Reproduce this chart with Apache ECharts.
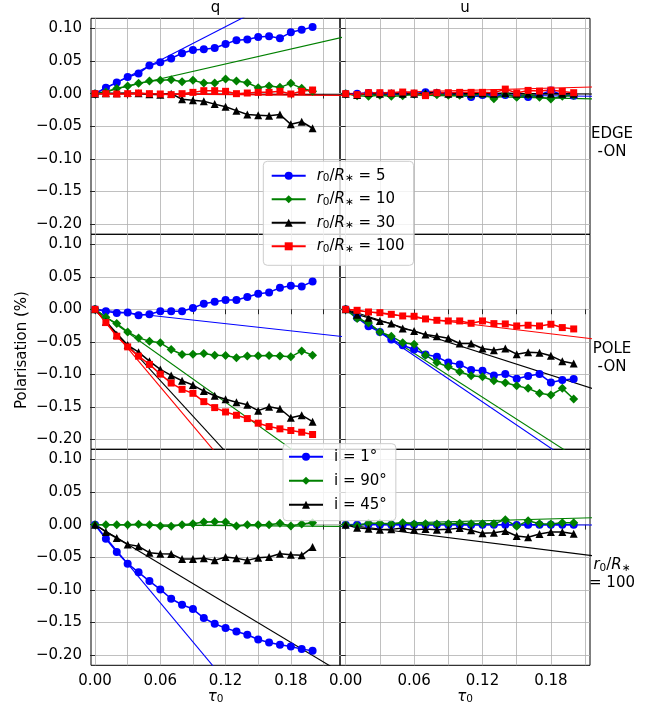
<!DOCTYPE html>
<html>
<head>
<meta charset="utf-8">
<script src="https://cdn.jsdelivr.net/npm/echarts@6/dist/echarts.min.js"></script>
<style>
  html, body { margin: 0; padding: 0; background: #ffffff; }
  #chart { width: 660px; height: 710px; }
</style>
</head>
<body>
<div id="chart"></div>
<script>
// Optical depth grid shared by every simulated run
const tau = [0.00, 0.01, 0.02, 0.03, 0.04, 0.05, 0.06, 0.07, 0.08, 0.09, 0.10,
             0.11, 0.12, 0.13, 0.14, 0.15, 0.16, 0.17, 0.18, 0.19, 0.20];

// Tick positions
const xTickValues = [0.00, 0.03, 0.06, 0.09, 0.12, 0.15, 0.18, 0.21];
const xLabelValues = [0.00, 0.06, 0.12, 0.18];
const yTickValues = [-0.20, -0.15, -0.10, -0.05, 0.00, 0.05, 0.10];

// Edge-on disc, Stokes q (%) for r0/R* = 5, 10, 30, 100
const edgeQ_r5   = [0, 0.0092, 0.0173, 0.0255, 0.031, 0.043, 0.048, 0.054, 0.062, 0.067, 0.068, 0.070, 0.076, 0.082, 0.083, 0.087, 0.088, 0.085, 0.094, 0.098, 0.102];
const edgeQ_r10  = [0, 0.0025, 0.008, 0.0117, 0.0158, 0.0194, 0.0204, 0.0214, 0.0183, 0.0204, 0.0163, 0.0163, 0.0224, 0.0194, 0.0168, 0.0092, 0.0117, 0.0097, 0.0158, 0.0082, 0.0036];
const edgeQ_r30  = [0, 0.0005, 0.0005, 0.001, 0.0005, -0.001, -0.0015, 0.0, -0.0085, -0.010, -0.0115, -0.016, -0.020, -0.026, -0.032, -0.033, -0.034, -0.032, -0.047, -0.043, -0.053];
const edgeQ_r100 = [0, 0, -0.0005, 0, 0.001, 0, -0.0005, -0.0015, 0, 0.002, 0.0046, 0.0046, 0.0036, 0, 0.001, 0.002, 0.002, 0.0036, -0.0005, 0.0036, 0.0056];

// Edge-on disc, Stokes u (%)
const edgeU_r5   = [0, 0, 0.001, 0, 0, 0, 0, 0.002, 0.001, 0, -0.001, -0.005, -0.002, -0.002, -0.002, -0.003, -0.005, -0.002, 0.005, -0.002, -0.003];
const edgeU_r10  = [0, -0.003, -0.004, -0.0025, -0.004, -0.003, -0.0005, -0.001, -0.0015, -0.0025, -0.0025, -0.0025, -0.0005, -0.0076, -0.0005, -0.0056, -0.0015, -0.0056, -0.008, -0.004, -0.0025];
const edgeU_r30  = [0, -0.002, 0.001, 0, 0.001, 0, 0, 0.0005, 0.002, 0, 0, 0, 0.0005, 0, 0.001, 0, 0, 0, 0, 0, 0];
const edgeU_r100 = [0, -0.0015, 0.0015, 0.0015, 0.001, 0.0025, 0.001, -0.003, 0.0015, 0.0015, 0.002, 0.002, 0.002, 0.0015, 0.007, 0.001, 0.005, 0.004, 0.0055, 0.0035, 0.0015];

// Pole-on disc, Stokes q (%)
const poleQ_r5   = [0, -0.003, -0.0056, -0.005, -0.0092, -0.0077, -0.003, -0.003, -0.003, 0.002, 0.0087, 0.0118, 0.0143, 0.0143, 0.0189, 0.024, 0.026, 0.0332, 0.0363, 0.0353, 0.0429];
const poleQ_r10  = [0, -0.0123, -0.022, -0.0348, -0.044, -0.049, -0.0516, -0.0619, -0.0695, -0.069, -0.068, -0.0706, -0.0711, -0.0746, -0.072, -0.0716, -0.0711, -0.072, -0.0731, -0.064, -0.0706];
const poleQ_r30  = [0, -0.019, -0.039, -0.055, -0.066, -0.0798, -0.0925, -0.1017, -0.110, -0.1166, -0.1258, -0.133, -0.1385, -0.143, -0.147, -0.156, -0.150, -0.153, -0.167, -0.163, -0.173];
const poleQ_r100 = [0, -0.0204, -0.0414, -0.0578, -0.0721, -0.0848, -0.0998, -0.1135, -0.1232, -0.1293, -0.1421, -0.1513, -0.158, -0.1631, -0.1682, -0.1753, -0.1805, -0.184, -0.1866, -0.1892, -0.1927];

// Pole-on disc, Stokes u (%)
const poleU_r5   = [0, -0.0128, -0.0261, -0.0348, -0.0465, -0.0552, -0.0619, -0.0695, -0.0731, -0.0818, -0.0849, -0.0936, -0.0946, -0.1017, -0.0997, -0.1069, -0.1028, -0.0997, -0.1125, -0.1089, -0.1074];
const poleU_r10  = [0, -0.0143, -0.021, -0.0348, -0.0414, -0.0516, -0.0537, -0.0706, -0.0818, -0.0884, -0.0961, -0.1022, -0.1038, -0.1099, -0.113, -0.1176, -0.1217, -0.1293, -0.1319, -0.1217, -0.138];
const poleU_r30  = [0, -0.0082, -0.0128, -0.0179, -0.022, -0.0297, -0.0332, -0.0389, -0.0414, -0.0445, -0.0527, -0.0527, -0.0603, -0.0629, -0.0603, -0.069, -0.066, -0.067, -0.0716, -0.0798, -0.0833];
const poleU_r100 = [0, -0.0015, -0.0041, -0.0051, -0.0077, -0.0102, -0.0107, -0.0148, -0.0169, -0.0179, -0.0179, -0.0215, -0.0179, -0.022, -0.0225, -0.0256, -0.0245, -0.0256, -0.023, -0.0281, -0.0302];

// r0/R* = 100, Stokes q (%) for inclinations 1, 90, 45 deg
const r100Q_i1  = [0, -0.0215, -0.0419, -0.0598, -0.0731, -0.0864, -0.0992, -0.1135, -0.1227, -0.1293, -0.1431, -0.1518, -0.1585, -0.1636, -0.1687, -0.1759, -0.1805, -0.184, -0.1866, -0.1907, -0.1933];
const r100Q_i90 = [0, 0, 0, 0, 0.0005, 0, -0.002, -0.0026, 0, 0.0015, 0.0041, 0.0046, 0.0041, -0.002, 0, 0, 0, 0.002, -0.002, 0.001, 0.003];
const r100Q_i45 = [0, -0.0112, -0.0204, -0.0302, -0.0332, -0.0429, -0.0445, -0.045, -0.0527, -0.0527, -0.0516, -0.0547, -0.0496, -0.0516, -0.0547, -0.0506, -0.0496, -0.0445, -0.046, -0.047, -0.0343];

// r0/R* = 100, Stokes u (%)
const r100U_i1  = [0, 0, 0.0005, 0, 0, 0, 0, -0.0005, 0, 0, 0, -0.0005, 0, 0, 0, -0.0005, 0, 0, 0, 0, 0];
const r100U_i90 = [0, -0.0015, 0.002, 0.002, 0.001, 0.003, 0.001, 0.0015, 0.001, 0.0015, 0.002, 0.0015, 0.0015, 0.0015, 0.0077, -0.0026, 0.0061, 0.0015, 0.001, 0.003, 0.003];
const r100U_i45 = [0, -0.0046, -0.0061, -0.0077, -0.0072, -0.0051, -0.0077, -0.0066, -0.0077, -0.0072, -0.0051, -0.0087, -0.0133, -0.0123, -0.0097, -0.0174, -0.0194, -0.0143, -0.0112, -0.0112, -0.0138];

// Single-scattering (optically thin) predictions: straight lines from the
// origin, given by their value at tau0 = 0.25
const fitTau = [0, 0.25];
const edgeQFitEnd = [0.214, 0.095, -0.002, -0.0028];
const edgeUFitEnd = [-0.0047, -0.0093, -0.0005, 0.0117];
const poleQFitEnd = [-0.046, -0.298, -0.4566, -0.4975];
const poleUFitEnd = [-0.297, -0.282, -0.1407, -0.0524];
const r100QFitEnd = [-0.499, -0.0029, -0.2505];
const r100UFitEnd = [-0.0006, 0.0122, -0.0548];

const rNames = ['r0/R* = 5', 'r0/R* = 10', 'r0/R* = 30', 'r0/R* = 100'];
const iNames = ['i = 1°', 'i = 90°', 'i = 45°'];

// ---------------------------------------------------------------------------
const FONT = 'DejaVu Sans';
const FS = 15;
const BLUE = '#0000ff', GREEN = '#008000', BLACK = '#000000', RED = '#ff0000';
const rStyle = [
  { color: BLUE,  symbol: 'circle',   size: 8 },
  { color: GREEN, symbol: 'diamond',  size: [9, 9] },
  { color: BLACK, symbol: 'triangle', size: 8 },
  { color: RED,   symbol: 'rect',     size: 7 }
];
const iStyle = rStyle.slice(0, 3);

const panels = [
  { names: rNames, style: rStyle, series: [edgeQ_r5, edgeQ_r10, edgeQ_r30, edgeQ_r100], fit: edgeQFitEnd },
  { names: rNames, style: rStyle, series: [edgeU_r5, edgeU_r10, edgeU_r30, edgeU_r100], fit: edgeUFitEnd },
  { names: rNames, style: rStyle, series: [poleQ_r5, poleQ_r10, poleQ_r30, poleQ_r100], fit: poleQFitEnd },
  { names: rNames, style: rStyle, series: [poleU_r5, poleU_r10, poleU_r30, poleU_r100], fit: poleUFitEnd },
  { names: iNames, style: iStyle, series: [r100Q_i1, r100Q_i90, r100Q_i45], fit: r100QFitEnd },
  { names: iNames, style: iStyle, series: [r100U_i1, r100U_i90, r100U_i45], fit: r100UFitEnd }
];

// Panel frames: two columns (q, u) by three rows
const colLeft = [91, 340], colWidth = [249, 250];
const rowTop = [18.3, 234.3, 449.3], rowHeight = [216, 215, 216];
const colXRange = [[-0.0037, 0.2252], [-0.005, 0.2143]];
const yRange = [-0.2155, 0.1155];

const fmt = v => {
  const s = Math.abs(v).toFixed(2);
  return (v < -1e-9 ? '\u2212' : '') + s;
};

const grids = [], xAxes = [], yAxes = [], series = [];
panels.forEach((p, k) => {
  const row = Math.floor(k / 2), col = k % 2;
  grids.push({
    left: colLeft[col], top: rowTop[row], width: colWidth[col], height: rowHeight[row],
    show: true, borderColor: '#000', borderWidth: 1, backgroundColor: 'transparent'
  });
  xAxes.push({
    type: 'value', gridIndex: k, min: colXRange[col][0], max: colXRange[col][1],
    axisLine: { show: false },
    axisTick: { show: true, customValues: xTickValues, length: 4.9, lineStyle: { color: '#000', width: 0.8 } },
    axisLabel: {
      show: row === 2, customValues: xLabelValues, formatter: fmt, margin: 8,
      color: '#000', fontFamily: FONT, fontSize: FS
    },
    splitLine: { show: true, lineStyle: { color: '#b0b0b0', width: 0.8 } }
  });
  yAxes.push({
    type: 'value', gridIndex: k, min: yRange[0], max: yRange[1],
    axisLine: { show: false },
    axisTick: { show: true, customValues: yTickValues, length: 4.9, lineStyle: { color: '#000', width: 0.8 } },
    axisLabel: {
      show: col === 0, customValues: yTickValues, formatter: fmt, margin: 9,
      color: '#000', fontFamily: FONT, fontSize: FS
    },
    splitLine: { show: true, lineStyle: { color: '#b0b0b0', width: 0.8 } }
  });
  p.series.forEach((vals, j) => {
    const st = p.style[j];
    series.push({
      name: 'fit ' + p.names[j], type: 'line', xAxisIndex: k, yAxisIndex: k,
      data: [[fitTau[0], 0], [fitTau[1], p.fit[j]]],
      symbol: 'none', clip: true, silent: true, z: 2,
      lineStyle: { color: st.color, width: 1.1 }, itemStyle: { color: st.color }
    });
  });
  p.series.forEach((vals, j) => {
    const st = p.style[j];
    series.push({
      name: p.names[j], type: 'line', xAxisIndex: k, yAxisIndex: k,
      data: tau.map((t, i) => [t, vals[i]]),
      symbol: st.symbol, symbolSize: st.size, showSymbol: true, clip: true, silent: true, z: 3,
      lineStyle: { color: st.color, width: 1.5 }, itemStyle: { color: st.color }
    });
  });
});

const subRich = {
  n:  { fontFamily: FONT, fontSize: FS, lineHeight: 16, color: '#000' },
  it: { fontFamily: FONT, fontSize: FS, fontStyle: 'italic', lineHeight: 16, color: '#000' },
  sb: { fontFamily: FONT, fontSize: 10.5, lineHeight: 10, verticalAlign: 'bottom', color: '#000' }
};
const rLabel = name => {
  const v = name.split('= ')[1];
  return '{it|r}{sb|0}{n|/}{it|R}{sb|\u2217}{n| = ' + v + '}';
};

const legendBase = {
  orient: 'vertical', itemWidth: 34, itemHeight: 10, itemGap: 8,
  backgroundColor: 'rgba(255,255,255,0.8)', borderColor: '#cccccc', borderWidth: 1, borderRadius: 4,
  selectedMode: false, z: 20
};

const textEl = (x, y, text, extra) => Object.assign({
  type: 'text', x: x, y: y, z: 30, silent: true,
  style: Object.assign({ text: text, fill: '#000', fontFamily: FONT, fontSize: FS, align: 'center', verticalAlign: 'middle' }, extra || {})
});

const option = {
  animation: false,
  backgroundColor: '#ffffff',
  grid: grids, xAxis: xAxes, yAxis: yAxes, series: series,
  legend: [
    Object.assign({}, legendBase, {
      data: rNames, left: 263.3, top: 161.3, padding: [7, 9, 11, 7.4],
      formatter: rLabel,
      textStyle: { fontFamily: FONT, fontSize: FS, color: '#000', padding: [0, 0, 0, 6], rich: subRich }
    }),
    Object.assign({}, legendBase, {
      data: iNames, left: 283, top: 443.7, padding: [5, 9, 8, 5],
      textStyle: { fontFamily: FONT, fontSize: FS, color: '#000', lineHeight: 16, padding: [0, 0, 0, 6] }
    })
  ],
  graphic: [
    textEl(215.5, 8, 'q'),
    textEl(465, 8, 'u'),
    textEl(215.5, 697, '{it|\u03c4}{sb|0}', { rich: subRich }),
    textEl(465, 697, '{it|\u03c4}{sb|0}', { rich: subRich }),
    Object.assign(textEl(22, 350, 'Polarisation (%)'), { rotation: Math.PI / 2 }),
    textEl(612, 143, 'EDGE\n-ON', { lineHeight: 18 }),
    textEl(612, 358, 'POLE\n-ON', { lineHeight: 18 }),
    textEl(612, 574, '{it|r}{sb|0}{n|/}{it|R}{sb|\u2217}\n{n|= 100}', {
      rich: {
        n:  { fontFamily: FONT, fontSize: FS, lineHeight: 18, color: '#000' },
        it: { fontFamily: FONT, fontSize: FS, fontStyle: 'italic', lineHeight: 18, color: '#000' },
        sb: { fontFamily: FONT, fontSize: 10.5, lineHeight: 12, verticalAlign: 'bottom', color: '#000' }
      }
    })
  ]
};

const chart = echarts.init(document.getElementById('chart'), null, { renderer: 'canvas', width: 660, height: 710 });
chart.setOption(option);
</script>
</body>
</html>
